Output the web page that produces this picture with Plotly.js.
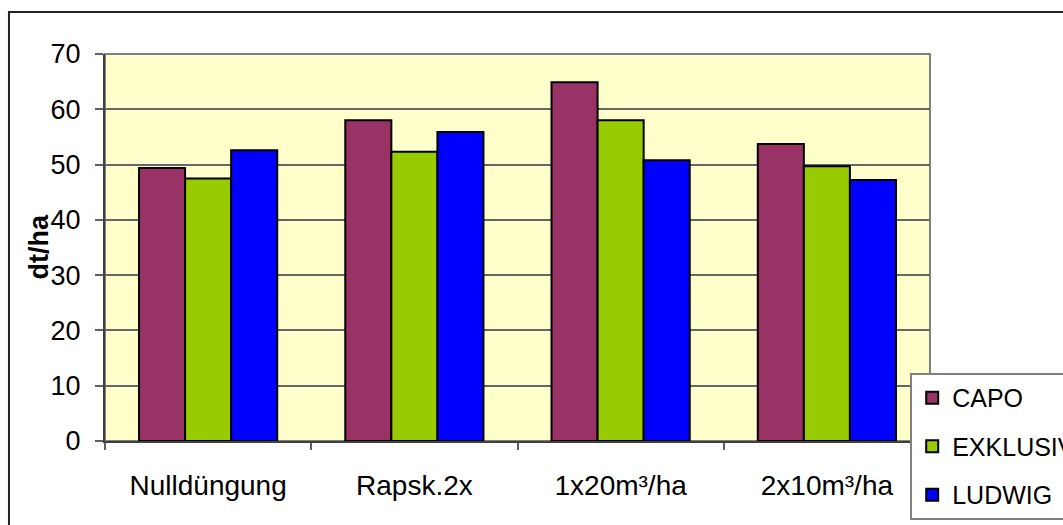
<!DOCTYPE html>
<html>
<head>
<meta charset="utf-8">
<script src="https://cdn.plot.ly/plotly-3.0.1.min.js"></script>
<style>
  html, body { margin: 0; padding: 0; background: #ffffff; }
  #chart { width: 1063px; height: 525px; }
</style>
</head>
<body>
<div id="chart"></div>
<script>
// Yield (dt/ha) per fertilisation variant and variety
const categories = ['Nulldüngung', 'Rapsk.2x', '1x20m³/ha', '2x10m³/ha'];
const seriesNames = ['CAPO', 'EXKLUSIV', 'LUDWIG'];
const capo     = [49.4, 58.0, 64.9, 53.7];
const exklusiv = [47.5, 52.3, 58.0, 49.7];
const ludwig   = [52.6, 55.9, 50.8, 47.2];
const yTicks   = [0, 10, 20, 30, 40, 50, 60, 70];
const yTitle   = 'dt/ha';

const colors = ['#993366', '#99CC00', '#0000FF'];
const values = [capo, exklusiv, ludwig];

const FONT = 'Liberation Sans, Arial, sans-serif';

const traces = seriesNames.map((name, i) => ({
  type: 'bar',
  name: name,
  x: categories,
  y: values[i],
  legendgroup: name,
  marker: { color: colors[i], line: { color: '#000000', width: 2 } },
  hoverinfo: 'x+y+name'
}));

const layout = {
  width: 1063,
  height: 525,
  margin: { l: 105, r: 133, t: 54, b: 84, autoexpand: false },
  paper_bgcolor: '#ffffff',
  plot_bgcolor: '#FFFFCC',
  font: { family: FONT, color: '#000000' },
  barmode: 'group',
  bargap: 0.33,
  bargroupgap: 0,
  showlegend: true,
  legend: {
    x: 0.976, xanchor: 'left',
    y: 0.176, yanchor: 'top',
    bgcolor: '#ffffff',
    bordercolor: '#808080',
    borderwidth: 2,
    font: { family: FONT, size: 25, color: '#000000' },
    traceorder: 'grouped',
    tracegroupgap: 13,
    itemclick: false
  },
  xaxis: {
    type: 'category',
    tickson: 'boundaries',
    ticks: 'outside',
    ticklen: 7,
    tickwidth: 1.5,
    tickcolor: '#606060',
    showline: true,
    linecolor: '#404040',
    linewidth: 2,
    showgrid: false,
    tickfont: { family: FONT, size: 28, color: '#000000' },
    ticklabelstandoff: 18,
    fixedrange: true
  },
  yaxis: {
    range: [0, 70],
    tickvals: yTicks,
    ticktext: yTicks.map(String),
    ticks: 'outside',
    ticklen: 8,
    tickwidth: 1.5,
    tickcolor: '#606060',
    showline: true,
    linecolor: '#404040',
    linewidth: 2,
    showgrid: true,
    gridcolor: '#666666',
    gridwidth: 1.5,
    zeroline: false,
    tickfont: { family: FONT, size: 27, color: '#000000' },
    ticklabelstandoff: 9,
    fixedrange: true
  },
  annotations: [
    // value axis title, rotated next to the tick labels
    { text: '<b>' + yTitle + '</b>', xref: 'paper', yref: 'paper',
      x: -0.0812, y: 0.5, xanchor: 'center', yanchor: 'middle',
      textangle: -90, showarrow: false,
      font: { family: FONT, size: 27, color: '#000000' } }
  ],
  shapes: [
    // frame around the plotting area (top and right edges)
    { type: 'rect', xref: 'paper', yref: 'paper', x0: 0, x1: 1, y0: 0, y1: 1,
      line: { color: '#808080', width: 2 }, fillcolor: 'rgba(0,0,0,0)', layer: 'below' },
    // outer chart border
    { type: 'rect', xref: 'paper', yref: 'paper',
      x0: -0.1164, x1: 1.3, y0: -0.4, y1: 1.1085,
      line: { color: '#222222', width: 2 }, fillcolor: 'rgba(0,0,0,0)', layer: 'below' }
  ]
};

Plotly.newPlot('chart', traces, layout, { displayModeBar: false });
</script>
</body>
</html>
